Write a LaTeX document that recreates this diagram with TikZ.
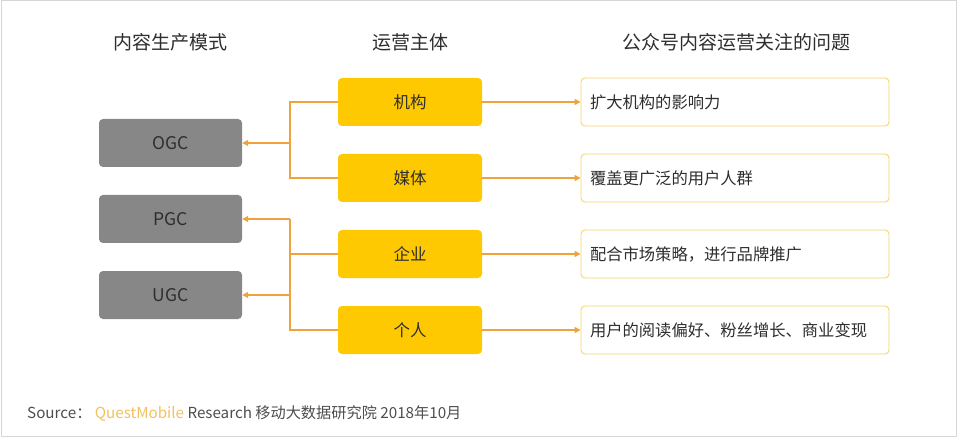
\documentclass[tikz,border=0pt]{standalone}
\usepackage{fontspec}
\setmainfont{Noto Sans CJK SC}
\usetikzlibrary{arrows.meta}
\definecolor{boxgray}{HTML}{878787}
\definecolor{boxyellow}{HTML}{FFC902}
\definecolor{conn}{HTML}{EFA33A}
\definecolor{rborder}{HTML}{F5D46A}
\definecolor{framegray}{HTML}{D6D6D6}
\definecolor{qm}{HTML}{F2C15E}
\definecolor{txt}{HTML}{2E2E2E}
\tikzset{
  modebox/.style={fill=boxgray, rounded corners=4pt, minimum width=143pt, minimum height=48pt, inner sep=0pt, text=txt, font=\fontsize{17.5}{20}\selectfont},
  subjbox/.style={fill=boxyellow, rounded corners=4pt, minimum width=144pt, minimum height=48pt, inner sep=0pt, text=txt, font=\fontsize{16.5}{19}\selectfont},
  issuebox/.style={draw=rborder, line width=0.9pt, fill=white, rounded corners=4pt, minimum height=48pt, text width=290pt, inner xsep=9pt, inner ysep=0pt, align=left, text=txt, font=\fontsize{16.3}{19}\selectfont},
  header/.style={text=txt, font=\fontsize{19}{22}\selectfont},
  linkline/.style={draw=conn, line width=1.5pt},
  linkarrow/.style={draw=conn, line width=1.5pt, -{Triangle[length=6pt,width=6pt]}},
}
\begin{document}
\begin{tikzpicture}[x=1pt,y=-1pt]
\path[use as bounding box] (0,0) rectangle (960,438);
\draw[framegray, line width=1pt] (1,1) rectangle (956,436);

\node[header] (h1) at (170,42) {内容生产模式};
\node[header] (h2) at (410,42) {运营主体};
\node[header] (h3) at (736,42) {公众号内容运营关注的问题};

\node[modebox] (ogc) at (170.5,143) {OGC};
\node[modebox] (pgc) at (170.5,219) {PGC};
\node[modebox] (ugc) at (170.5,295) {UGC};

\node[subjbox] (jigou) at (410,102) {机构};
\node[subjbox] (meiti) at (410,178) {媒体};
\node[subjbox] (qiye) at (410,254) {企业};
\node[subjbox] (geren) at (410,330) {个人};

\node[issuebox] (i1) at (735,102) {扩大机构的影响力};
\node[issuebox] (i2) at (735,178) {覆盖更广泛的用户人群};
\node[issuebox] (i3) at (735,254) {配合市场策略，进行品牌推广};
\node[issuebox] (i4) at (735,330) {用户的阅读偏好、粉丝增长、商业变现};

\coordinate (jA) at (290,143);
\coordinate (jB) at (290,219);

\draw[linkline] (jigou.west) -| (jA) |- (meiti.west);
\draw[linkarrow, line width=2.2pt] (jA) -- (ogc.east);

\draw[linkline] (geren.west) -| (jB);
\draw[linkline] (qiye.west) -- (qiye.west -| jB);
\draw[linkarrow] (jB) -- (pgc.east);
\draw[linkarrow] (jB |- ugc.east) -- (ugc.east);

\draw[linkarrow] (jigou.east) -- (i1.west);
\draw[linkarrow] (meiti.east) -- (i2.west);
\draw[linkarrow] (qiye.east) -- (i3.west);
\draw[linkarrow] (geren.east) -- (i4.west);

\node[anchor=west, inner sep=0pt, text=txt!85, font=\fontsize{15.2}{17}\selectfont] (src) at (27,413)
  {Source： \textcolor{qm}{QuestMobile} Research 移动大数据研究院 2018年10月};
\end{tikzpicture}
\end{document}
